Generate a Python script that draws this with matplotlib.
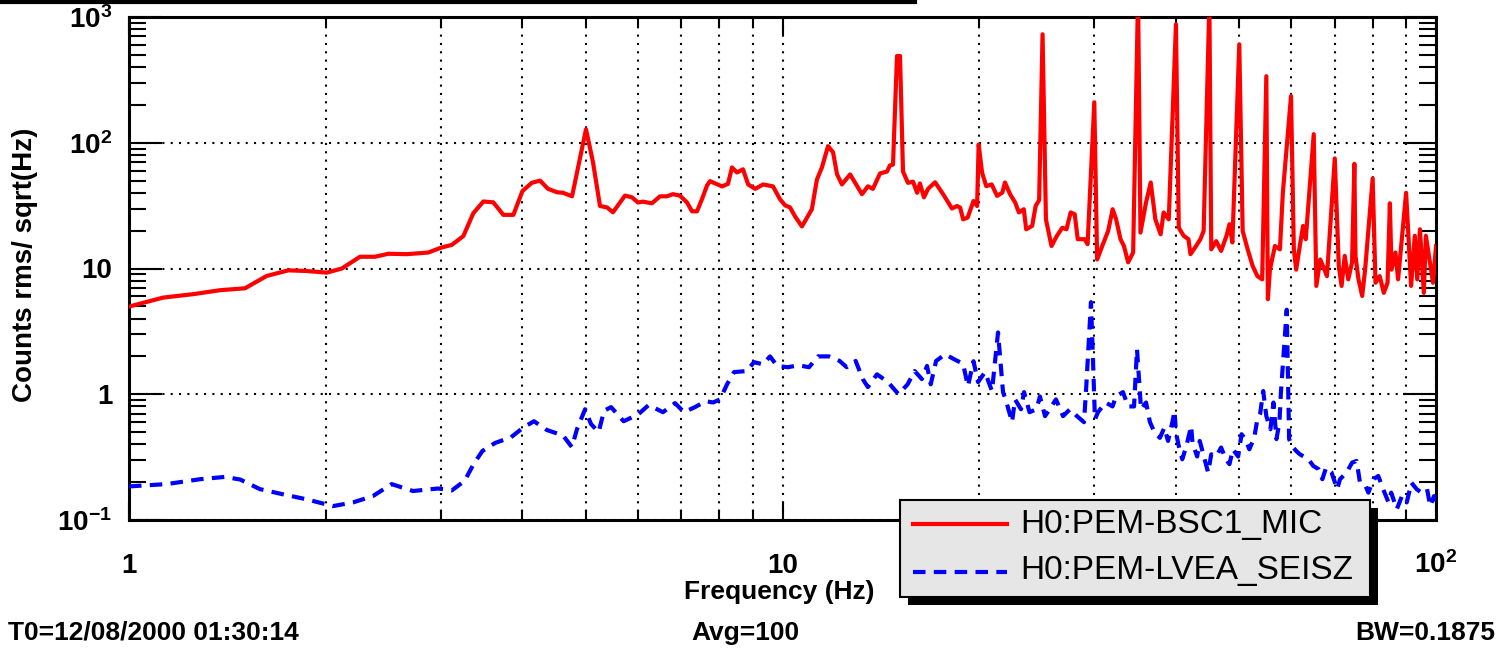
import matplotlib
matplotlib.use('Agg')
import matplotlib.pyplot as plt
from matplotlib.lines import Line2D
from matplotlib.patches import Rectangle
from matplotlib.ticker import FixedLocator, FixedFormatter, NullFormatter, LogLocator

# spectrum values (Hz, counts rms/sqrt(Hz))
red_freq = [1.00, 1.128, 1.254, 1.378, 1.505, 1.624, 1.753, 1.870, 2.007, 2.116,
            2.257, 2.379, 2.494, 2.660, 2.871, 3.009, 3.118, 3.248, 3.364, 3.485,
            3.609, 3.740, 3.874, 4.00, 4.133, 4.256, 4.377, 4.519, 4.615, 4.764,
            5.004, 5.129, 5.257, 5.388, 5.503, 5.741, 5.884, 6.010, 6.116, 6.313,
            6.493, 6.655, 6.797, 6.967, 7.143, 7.270, 7.399, 7.530, 7.664, 7.746,
            8.08, 8.25, 8.37, 8.52, 8.70, 8.86, 9.08, 9.34, 9.67, 9.91,
            10.09, 10.27, 10.45, 10.71, 11.09, 11.29, 11.49, 11.74, 11.95, 12.12,
            12.33, 12.69, 13.23, 13.51, 13.75, 14.10, 14.45, 14.60, 14.76, 14.97,
            15.13, 15.29, 15.56, 15.84, 16.07, 16.23, 16.46, 16.70, 17.12, 17.61,
            18.17, 18.49, 18.7, 18.9, 19.2, 19.6, 19.85, 19.96, 20.2, 20.5,
            20.9, 21.3, 21.7, 21.9, 22.3, 22.7, 23.0, 23.4, 23.6, 24.1,
            24.4, 24.7, 25.0, 25.3, 25.8, 26.3, 26.8, 27.2, 27.6, 28.0,
            28.3, 29.0, 29.3, 30.0, 30.3, 31.0, 31.5, 32.0, 32.4, 32.9,
            33.3, 33.8, 34.4, 35.0, 35.3, 36.0, 36.6, 37.2, 37.9, 38.3,
            39.0, 40.0, 40.4, 41.1, 41.8, 42.1, 42.8, 43.6, 44.1, 45.0,
            45.3, 46.1, 46.9, 47.8, 48.3, 48.8, 50.0, 50.6, 51.5, 52.4,
            53.3, 54.2, 55.0, 55.3, 55.7, 56.7, 57.7, 58.3, 59.0, 60.0,
            60.6, 61.1, 62.0, 62.6, 63.2, 65.0, 65.6, 66.5, 67.5, 68.1,
            70.0, 71.0, 71.7, 72.5, 73.4, 74.4, 75.0, 75.3, 76.1, 77.1,
            77.9, 80.0, 80.8, 82.0, 83.2, 84.3, 85.0, 85.5, 86.7, 87.5,
            90.0, 91.6, 92.8, 93.6, 94.5, 95.8, 96.5, 98.95, 100.0]
red_amp = [4.98, 5.87, 6.25, 6.72, 6.96, 8.72, 9.67, 9.55, 9.27, 9.99,
           12.4, 12.4, 13.1, 13.0, 13.4, 14.7, 15.4, 18.1, 27.5, 34.1,
           33.6, 26.7, 26.7, 41.3, 48.0, 50, 43, 40.4, 40, 37.5,
           128, 70, 31.4, 30.6, 28, 38, 36.8, 33.5, 34, 33,
           37.5, 37.5, 39, 38, 33.5, 28.5, 28.5, 35.6, 45.7, 49.5,
           45, 47, 63.6, 58, 61.5, 46.6, 43, 46.6, 45, 35.6,
           31.8, 30.6, 26, 21.6, 29.6, 51, 63.6, 94, 84, 56,
           46.6, 56, 39, 45, 43, 57, 59, 66, 67, 490,
           490, 59, 48, 49, 40, 47.5, 36.8, 43, 48.5, 39,
           30, 31.4, 30.5, 24.6, 25.4, 34.4, 31.4, 97, 58, 45.2,
           46.6, 37.8, 40.2, 48.3, 38.9, 33.5, 27.9, 29.6, 20.5, 21.8,
           31.4, 35, 729, 24.6, 15.1, 18.2, 21.1, 20.5, 27.9, 27.0,
           17.1, 17.1, 15.6, 210, 11.8, 16.1, 19.9, 29.6, 24.6, 17.1,
           15.1, 11.2, 13.4, 1500, 19.3, 33.5, 48.3, 24.6, 18.7, 27.9,
           24.6, 875, 21.1, 18.2, 17.1, 13.0, 14.7, 17.1, 19.9, 1300,
           14.2, 16.5, 13.8, 18.2, 22.5, 16.1, 606, 19.9, 14.2, 10.5,
           8.7, 8.2, 338, 5.7, 9.8, 15.1, 14.2, 40.2, 83.6, 235,
           14.2, 9.8, 16.1, 21.8, 17.1, 117, 7.27, 11.8, 9.8, 8.7,
           75, 10.5, 7.27, 12.6, 8.2, 11.2, 68, 12.6, 8.2, 6.05,
           9.8, 52, 7.7, 8.7, 6.4, 7.7, 33, 9.8, 13.4, 8.2,
           40, 7.27, 18.2, 8.2, 20.5, 6.4, 18.2, 7.7, 15]

blue_freq = [1.0, 1.142, 1.284, 1.40, 1.479, 1.586, 1.721, 1.870, 2.052, 2.202,
             2.362, 2.523, 2.72, 2.97, 3.12, 3.263, 3.367, 3.474, 3.633, 3.842,
             4.017, 4.166, 4.358, 4.615, 4.761, 4.849, 4.988, 5.093, 5.232, 5.333,
             5.466, 5.713, 6.01, 6.239, 6.563, 6.847, 7.068, 7.346, 7.63, 7.83,
             8.025, 8.225, 8.43, 8.82, 9.045, 9.336, 9.57, 9.81, 10.19, 10.58,
             10.98, 11.33, 11.78, 12.23, 12.54, 12.94, 13.27, 13.51, 13.95, 14.5,
             15.05, 15.54, 15.93, 16.34, 16.64, 16.86, 17.18, 17.74, 18.3, 18.89,
             19.22, 19.6, 19.92, 20.41, 20.92, 21.37, 21.75, 22.02, 22.45, 22.69,
             23.17, 23.42, 23.88, 24.47, 24.77, 25.22, 26.21, 26.87, 27.54, 28.22,
             28.93, 29.13, 29.65, 29.86, 30.07, 30.39, 31.22, 31.99, 32.38, 33.19,
             33.79, 34.51, 34.87, 35.37, 36.0, 36.5, 37.1, 37.8, 38.4, 38.9,
             39.5, 39.8, 40.0, 40.4, 40.9, 41.5, 42.2, 42.4, 43.1, 43.5,
             44.8, 45.3, 46.1, 46.9, 47.7, 48.3, 48.9, 49.8, 50.4, 51.1,
             51.8, 52.7, 53.2, 53.8, 54.4, 55.0, 55.8, 56.4, 57.0, 57.6,
             57.9, 59.1, 59.6, 60.2, 61.1, 61.9, 63.8, 64.9, 66.1, 67.0,
             67.9, 69.2, 70.6, 71.3, 73.0, 74.4, 75.6, 76.5, 78.0, 78.8,
             80.2, 81.6, 83.0, 84.6, 85.4, 87.1, 88.7, 90.2, 91.7, 93.4,
             95.0, 96.9, 98.0, 99.3, 100.0]
blue_amp = [0.185, 0.193, 0.211, 0.22, 0.21, 0.176, 0.16, 0.146, 0.129, 0.138,
            0.155, 0.193, 0.17, 0.178, 0.172, 0.205, 0.278, 0.354, 0.41, 0.455,
            0.546, 0.61, 0.52, 0.47, 0.38, 0.53, 0.76, 0.58, 0.5, 0.74,
            0.79, 0.61, 0.69, 0.82, 0.72, 0.85, 0.72, 0.79, 0.88, 0.86,
            0.91, 1.2, 1.5, 1.53, 1.8, 1.73, 2.0, 1.68, 1.64, 1.7,
            1.64, 2.0, 2.0, 1.84, 1.64, 1.84, 1.32, 1.14, 1.44, 1.25,
            1.0, 1.2, 1.53, 1.32, 1.68, 1.2, 1.84, 2.08, 1.9, 1.75,
            1.16, 1.83, 1.25, 1.5, 1.06, 3.1, 1.04, 0.86, 0.6, 0.91,
            0.76, 1.04, 0.72, 0.76, 0.96, 0.67, 0.91, 0.67, 0.76, 0.67,
            0.6, 1.04, 5.4, 1.9, 0.63, 0.72, 0.86, 0.8, 0.96, 1.04,
            0.8, 0.8, 2.28, 0.76, 0.86, 0.6, 0.496, 0.45, 0.543, 0.425,
            0.6, 0.737, 0.496, 0.388, 0.304, 0.388, 0.56, 0.413, 0.32, 0.425,
            0.239, 0.333, 0.32, 0.377, 0.304, 0.278, 0.365, 0.32, 0.481, 0.44,
            0.365, 0.45, 0.6, 0.693, 1.06, 0.67, 0.527, 0.859, 0.44, 0.6,
            1.03, 4.7, 0.44, 0.388, 0.354, 0.333, 0.304, 0.269, 0.254, 0.211,
            0.261, 0.239, 0.176, 0.211, 0.239, 0.286, 0.295, 0.198, 0.187, 0.165,
            0.211, 0.224, 0.176, 0.138, 0.165, 0.122, 0.155, 0.138, 0.198, 0.176,
            0.165, 0.176, 0.129, 0.155, 0.13]

series_names = ['H0:PEM-BSC1_MIC', 'H0:PEM-LVEA_SEISZ']
x_ticks = [1, 10, 100]
x_tick_labels = ['1', '10', r'$10^{2}$']
y_ticks = [0.1, 1, 10, 100, 1000]
y_tick_labels = [r'$10^{-1}$', '1', '10', r'$10^{2}$', r'$10^{3}$']
footer = ['T0=12/08/2000 01:30:14', 'Avg=100', 'BW=0.1875']

plt.rcParams['font.family'] = ['Liberation Sans', 'DejaVu Sans']
plt.rcParams['font.weight'] = 'bold'
plt.rcParams['mathtext.fontset'] = 'custom'
plt.rcParams['mathtext.rm'] = 'Liberation Sans:bold'
plt.rcParams['mathtext.bf'] = 'Liberation Sans:bold'
plt.rcParams['mathtext.it'] = 'Liberation Sans:bold'

W, H = 1501, 652
fig = plt.figure(figsize=(W / 100, H / 100), dpi=100)
ax = fig.add_axes([129 / W, 1 - 520 / H, (1436 - 129) / W, (520 - 17) / H])

ax.plot(red_freq, red_amp, color='#ff0000', lw=3, zorder=3)
ax.plot(blue_freq, blue_amp, color='#0000ff', lw=3, ls=(0, (3, 2)), zorder=3)

ax.set_xscale('log')
ax.set_yscale('log')
ax.set_xlim(1, 100)
ax.set_ylim(0.1, 1000)

ax.xaxis.set_major_locator(FixedLocator(x_ticks))
ax.xaxis.set_major_formatter(FixedFormatter(x_tick_labels))
ax.xaxis.set_minor_locator(LogLocator(base=10, subs=range(2, 10)))
ax.xaxis.set_minor_formatter(NullFormatter())
ax.yaxis.set_major_locator(FixedLocator(y_ticks))
ax.yaxis.set_major_formatter(FixedFormatter(y_tick_labels))
ax.yaxis.set_minor_locator(LogLocator(base=10, subs=range(2, 10)))
ax.yaxis.set_minor_formatter(NullFormatter())

ax.grid(which='major', axis='both', color='black', lw=1.5, ls=(0, (1, 3)))
ax.grid(which='minor', axis='x', color='black', lw=1.5, ls=(0, (1, 3)))

ax.tick_params(which='both', direction='in', top=True, right=True, width=1.5, colors='black')
ax.tick_params(axis='y', which='major', length=24, pad=12, labelsize=20)
ax.tick_params(axis='y', which='minor', length=12)
ax.tick_params(axis='x', which='major', length=13, pad=38, labelsize=20)
ax.tick_params(axis='x', which='minor', length=7)
for lab in ax.get_xticklabels():
    lab.set_va('baseline')
for sp in ax.spines.values():
    sp.set_linewidth(2.2)

fig.text(779 / W, 1 - 592 / H, 'Frequency (Hz)', fontsize=19, ha='center', va='center')
fig.text(25 / W, 1 - 265 / H, 'Counts rms/ sqrt(Hz)', fontsize=20, rotation=90,
         ha='center', va='center')

fig.text(8 / W, 1 - 633 / H, footer[0], fontsize=19, ha='left', va='center')
fig.text(745 / W, 1 - 633 / H, footer[1], fontsize=19, ha='center', va='center')
fig.text(1495 / W, 1 - 633 / H, footer[2], fontsize=19, ha='right', va='center')

# stray line at the top edge
fig.add_artist(Line2D([0, 915 / W], [1 - 2 / H] * 2, color='black', lw=3))

# legend box with a hard black shadow
bx0, bx1, by0, by1 = 900, 1370, 500, 597
fig.add_artist(Rectangle(((bx0 + 8) / W, 1 - (by1 + 8) / H), (bx1 - bx0) / W, (by1 - by0) / H,
                         transform=fig.transFigure, fc='black', ec='none', zorder=20))
fig.add_artist(Rectangle((bx0 / W, 1 - by1 / H), (bx1 - bx0) / W, (by1 - by0) / H,
                         transform=fig.transFigure, fc='#e6e6e6', ec='black', lw=1.5, zorder=21))
fig.add_artist(Line2D([913 / W, 1007 / W], [1 - 524 / H] * 2, color='#ff0000', lw=3, zorder=22))
fig.add_artist(Line2D([913 / W, 1007 / W], [1 - 572 / H] * 2, color='#0000ff', lw=3,
                      ls=(0, (3, 2)), zorder=22))
fig.text(1020 / W, 1 - 524 / H, series_names[0], fontsize=24, fontweight='normal',
         ha='left', va='center', zorder=23)
fig.text(1020 / W, 1 - 571 / H, series_names[1], fontsize=24, fontweight='normal',
         ha='left', va='center', zorder=23)

fig.savefig('out.png', dpi=100)
